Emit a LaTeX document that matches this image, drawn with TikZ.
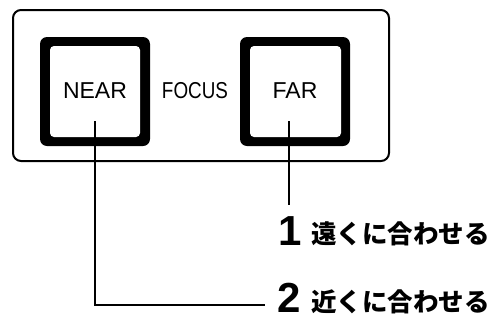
\documentclass[tikz,border=0pt]{standalone}
\usepackage{fontspec}
\setmainfont{Liberation Sans}
\newfontfamily\jpfont{Noto Sans CJK JP}
\begin{document}
\begin{tikzpicture}[x=1pt,y=-1pt,
  panel/.style={draw=black,line width=2pt,rounded corners=8pt},
  btnouter/.style={fill=black,rounded corners=7pt},
  btninner/.style={fill=white,rounded corners=4pt},
  keytext/.style={font=\fontsize{23}{23}\selectfont,inner sep=0pt,anchor=base},
  numtext/.style={font=\fontsize{42}{42}\selectfont\bfseries,inner sep=0pt,anchor=base west},
  jptext/.style={font=\jpfont\bfseries\fontsize{25.5}{25.5}\selectfont,inner sep=0pt,anchor=base west},
  conn/.style={draw=black,line width=1.3pt}]
\useasboundingbox (0,0) rectangle (498,322);
\draw[panel] (13,10) rectangle (389,161);
% NEAR button
\fill[btnouter] (40,37) rectangle (150,146);
\fill[btninner] (50,46) rectangle (140,137);
% FAR button
\fill[btnouter] (240,37) rectangle (350,146);
\fill[btninner] (250,46) rectangle (341,137);
\node[keytext] (near) at (95,98) {NEAR};
\node[keytext,xscale=0.82,transform shape] (focus) at (195,98) {FOCUS};
\node[keytext] (far) at (295,98) {FAR};
\coordinate (neartip) at (95,121);
\coordinate (fartip) at (289,121);
\node[numtext] (n1) at (278,245) {1};
\node[jptext] (t1) at (311,243) {遠くに合わせる};
\node[numtext] (n2) at (277,312) {2};
\node[jptext] (t2) at (311,311) {近くに合わせる};
\coordinate (n1top) at (289,205);
\coordinate (n2left) at (265,305);
\draw[conn] (fartip) -- (n1top);
\draw[conn] (neartip) |- (n2left);
\end{tikzpicture}
\end{document}
